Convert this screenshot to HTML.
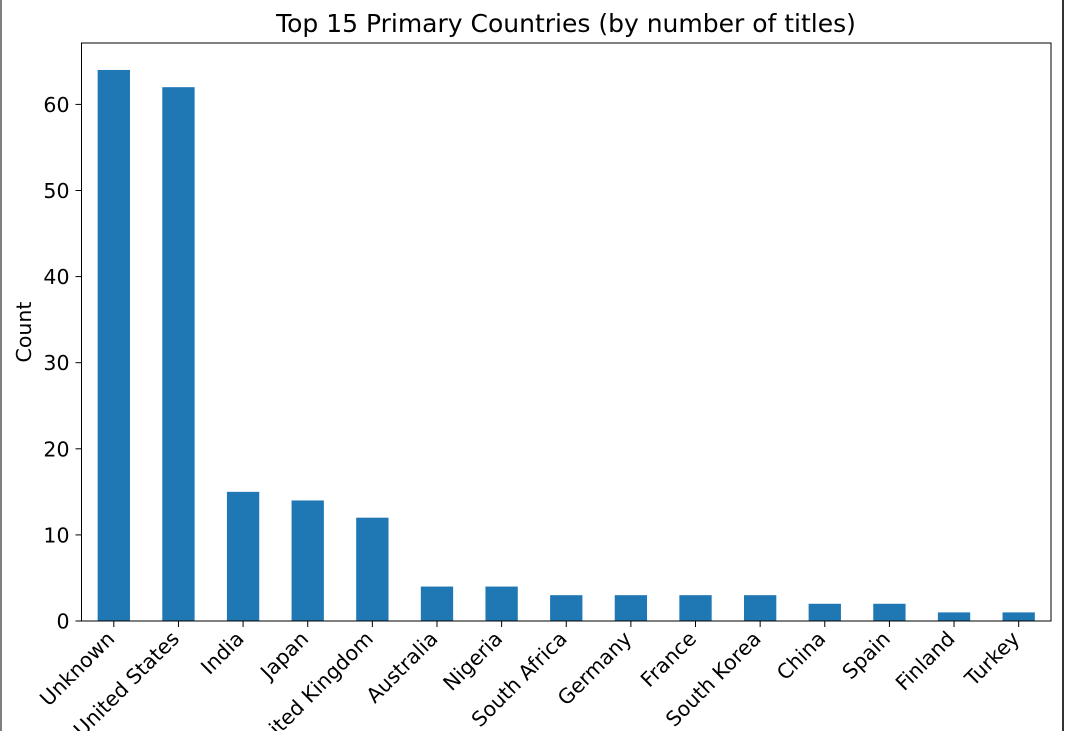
<!DOCTYPE html>
<html><head><meta charset="utf-8"><style>
html,body{margin:0;padding:0;background:#fff;width:1065px;height:731px;overflow:hidden}
svg{display:block;font-family:"DejaVu Sans","Liberation Sans",sans-serif}
</style></head><body>
<svg id="chart" width="1065" height="731">
<rect x="0" y="0" width="1065" height="731" fill="#fff"/>
<line x1="1" y1="0" x2="1" y2="731" stroke="#555" stroke-width="1.5"/>
<line x1="1063" y1="0" x2="1063" y2="731" stroke="#333" stroke-width="2"/>
<text x="566" y="32" text-anchor="middle" font-size="25" fill="#000">Top 15 Primary Countries (by number of titles)</text>
<text transform="translate(31,332) rotate(-90)" text-anchor="middle" font-size="20.5" fill="#000">Count</text>
<g id="bars"></g><g id="yticks"></g><g id="xticks"></g>
<rect x="81.5" y="43" width="969.5" height="578" fill="none" stroke="#000" stroke-width="1"/>
</svg>
<script>
const categories=["Unknown","United States","India","Japan","United Kingdom","Australia","Nigeria","South Africa","Germany","France","South Korea","China","Spain","Finland","Turkey"];
const counts=[64,62,15,14,12,4,4,3,3,3,3,2,2,1,1];
const yTickValues=[0,10,20,30,40,50,60];
const NS="http://www.w3.org/2000/svg";
const L=81.5,R=1051,B=621,pxPer10=86.1;
function x(i){return L+(i+0.5)*(R-L)/categories.length;}
function y(v){return B-v*pxPer10/10;}
const bw=(R-L)/categories.length*0.5;
const gb=document.getElementById('bars'),gy=document.getElementById('yticks'),gx=document.getElementById('xticks');
counts.forEach((c,i)=>{
 const r=document.createElementNS(NS,'rect');
 r.setAttribute('x',x(i)-bw/2);r.setAttribute('y',y(c));r.setAttribute('width',bw);r.setAttribute('height',B-y(c));r.setAttribute('fill','#1f77b4');
 
 
 gb.appendChild(r);
 const t=document.createElementNS(NS,'line');
 t.setAttribute('x1',x(i));t.setAttribute('x2',x(i));t.setAttribute('y1',B);t.setAttribute('y2',B+6);t.setAttribute('stroke','#000');
 
 
 gx.appendChild(t);
 const l=document.createElementNS(NS,'text');
 l.setAttribute('transform','translate('+(x(i)+2)+','+(B+19)+') rotate(-45)');
 l.setAttribute('text-anchor','end');l.setAttribute('font-size','20.5');l.textContent=categories[i];
 
 
 gx.appendChild(l);
});
yTickValues.forEach(v=>{
 const t=document.createElementNS(NS,'line');
 t.setAttribute('x1',L-6);t.setAttribute('x2',L);t.setAttribute('y1',y(v));t.setAttribute('y2',y(v));t.setAttribute('stroke','#000');
 
 
 gy.appendChild(t);
 const l=document.createElementNS(NS,'text');
 l.setAttribute('x',L-12);l.setAttribute('y',y(v)+7.5);l.setAttribute('text-anchor','end');l.setAttribute('font-size','20.5');l.textContent=v;
 
 
 gy.appendChild(l);
});
</script>
</body></html>
